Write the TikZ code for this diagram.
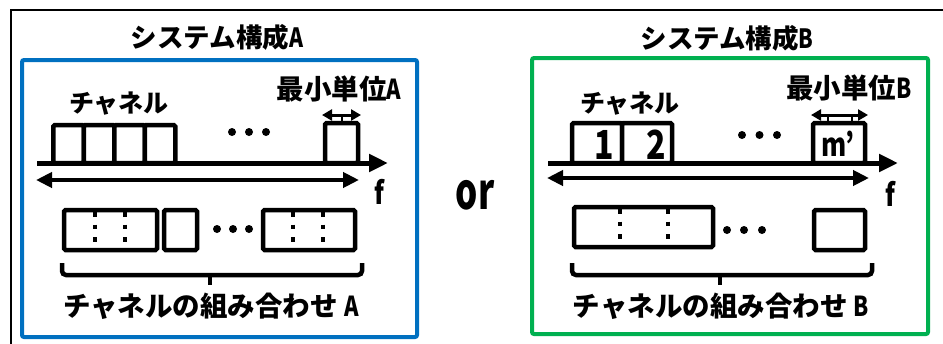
\documentclass[tikz,border=0pt]{standalone}
\usepackage{fontspec}
\setmainfont{Noto Sans CJK JP}
\usetikzlibrary{arrows.meta}
\definecolor{bluebox}{RGB}{0,112,192}
\definecolor{greenbox}{RGB}{0,176,80}
\newcommand{\nar}[1]{\scalebox{0.8}[1]{#1}}
\tikzset{
  cbox/.style={draw=black, line width=4.5pt, rounded corners=1.5pt, inner sep=0pt, fill=white},
  frame/.style={line width=4pt, rounded corners=2pt},
  lbl/.style={inner sep=0pt, font=\fontsize{25}{27}\selectfont\bfseries},
  lblw/.style={inner sep=0pt, font=\fontsize{27.5}{29}\selectfont\bfseries},
  title/.style={inner sep=0pt, font=\fontsize{26.5}{28}\selectfont\bfseries},
  num/.style={inner sep=0pt, font=\fontsize{40}{42}\selectfont\bfseries},
  flbl/.style={inner sep=0pt, font=\fontsize{31}{33}\selectfont\bfseries},
  axis/.style={line width=5pt, -{Triangle[length=19pt,width=17pt]}},
  span/.style={line width=4.5pt, {Triangle[length=16pt,width=15pt]}-{Triangle[length=16pt,width=15pt]}},
  small/.style={line width=3pt, {Triangle[length=10pt,width=11pt]}-{Triangle[length=10pt,width=11pt]}},
  dotline/.style={line width=4.5pt, dash pattern=on 4.5pt off 8pt},
  brace/.style={line width=4.5pt, rounded corners=4pt},
  dot/.style={fill=black}
}
\begin{document}
\begin{tikzpicture}[x=1pt,y=-1pt]
\useasboundingbox (0,0) rectangle (943,343);
\fill[white] (0,0) rectangle (943,343);
% outer frame
\draw[line width=2pt] (11,350) -- (11,9.5) -- (950,9.5);
% group frames
\draw[frame, draw=bluebox] (22,60) rectangle (417,337);
\draw[frame, draw=greenbox] (532,58) rectangle (928,334);
% titles
\node[title] (tA) at (217,37) {システム構成\nar{A}};
\node[title] (tB) at (727,38) {システム構成\nar{B}};
\node[inner sep=0pt, font=\fontsize{50}{52}\selectfont\bfseries] (or) at (475,195) {\scalebox{0.7}[1]{or}};

% ================= A =================
\node[lbl] (chA) at (119,104) {チャネル};
\node[lblw] (minA) at (339,89) {最小単位\nar{A}};
\coordinate (axA0) at (37,163);
\coordinate (axA1) at (388,163);
\node[cbox, minimum width=30.5pt, minimum height=38pt] (a1) at (68.5,144) {};
\node[cbox, minimum width=30.5pt, minimum height=38pt] (a2) at (99,144) {};
\node[cbox, minimum width=30.5pt, minimum height=38pt] (a3) at (129.5,144) {};
\node[cbox, minimum width=30.5pt, minimum height=38pt] (a4) at (160,144) {};
\node[cbox, minimum width=33pt, minimum height=40pt] (am) at (341.5,143) {};
\draw[axis] (axA0) -- (axA1);
\foreach \x in {232,249,266} \fill[dot] (\x,132) circle (4pt);
\coordinate (smA0) at (322,115);
\coordinate (smA1) at (361,115);
\draw[small] (smA0) -- (smA1);
\draw[line width=2pt] (341.5,115) -- (am.north);
\coordinate (spA0) at (36,180);
\coordinate (spA1) at (359,180);
\draw[span] (spA0) -- (spA1);
\node[flbl] (fA) at (379,192) {\nar{f}};
% lower A
\node[cbox, minimum width=93pt, minimum height=40pt] (la1) at (110.5,230) {};
\node[cbox, minimum width=33pt, minimum height=40pt] (la2) at (180.5,230) {};
\node[cbox, minimum width=92pt, minimum height=40pt] (la3) at (309,230) {};
\foreach \x in {95,125,293,323} \draw[dotline] (\x,212) -- (\x,250);
\foreach \x in {217,233,249} \fill[dot] (\x,229) circle (4pt);
\draw[brace] (62,263) -- (62,275) -- (362,275) -- (362,263);
\draw[line width=4.5pt] (210,275) -- (210,285);
\node[lblw] (cA) at (211,306) {チャネルの組み合わせ \nar{A}};

% ================= B =================
\node[lbl] (chB) at (630,104) {チャネル};
\node[lblw] (minB) at (849,88) {最小単位\nar{B}};
\coordinate (axB0) at (548,163);
\coordinate (axB1) at (898,163);
\node[cbox, minimum width=50pt, minimum height=40pt] (b1) at (597,143) {};
\node[cbox, minimum width=50pt, minimum height=40pt] (b2) at (647,143) {};
\node[cbox, minimum width=52pt, minimum height=40pt] (bm) at (839,143) {};
\node[num] (n1) at (604,145) {\nar{1}};
\node[num] (n2) at (656,145) {\nar{2}};
\node[inner sep=0pt, font=\fontsize{32}{34}\selectfont\bfseries] (nm) at (838,144) {\nar{m’}};
\draw[axis] (axB0) -- (axB1);
\foreach \x in {742,759.5,777} \fill[dot] (\x,135) circle (4pt);
\coordinate (smB0) at (811,115);
\coordinate (smB1) at (868,115);
\draw[line width=1.5pt] (828,115) rectangle (852,123);
\draw[small] (smB0) -- (smB1);
\coordinate (spB0) at (547,178);
\coordinate (spB1) at (869,178);
\draw[span] (spB0) -- (spB1);
\node[flbl] (fB) at (890,194) {\nar{f}};
% lower B
\node[cbox, minimum width=139pt, minimum height=40pt] (lb1) at (643.5,227) {};
\node[cbox, minimum width=51pt, minimum height=40pt] (lb2) at (839.5,230) {};
\foreach \x in {620,668} \draw[dotline] (\x,209) -- (\x,247);
\foreach \x in {727,744,762} \fill[dot] (\x,230) circle (4pt);
\draw[brace] (572,263) -- (572,275) -- (872,275) -- (872,263);
\draw[line width=4.5pt] (720,275) -- (720,285);
\node[lblw] (cB) at (721,306) {チャネルの組み合わせ \nar{B}};
\end{tikzpicture}
\end{document}
